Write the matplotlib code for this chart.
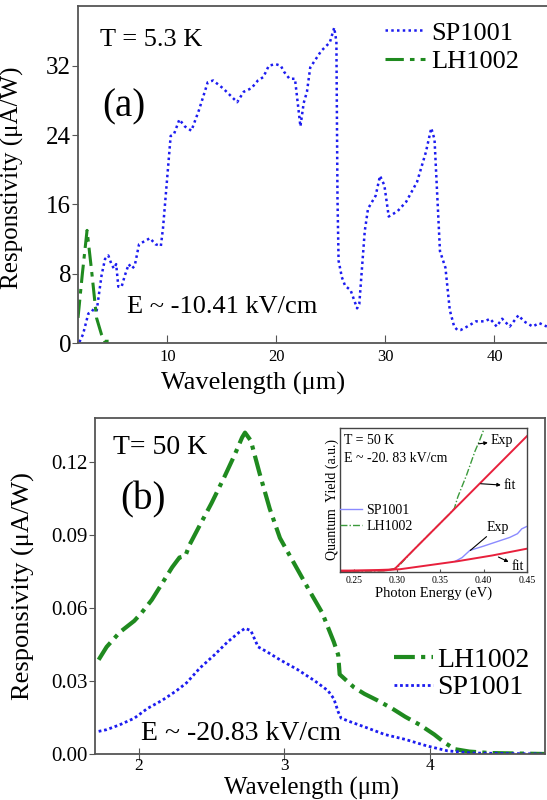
import matplotlib
matplotlib.use("Agg")
import matplotlib.pyplot as plt

# ---- panel (a) data, T = 5.3 K ----
wl_a_sp = [1.93, 2.26, 2.75, 3.06, 3.36, 3.5, 3.96, 4.28, 4.58, 4.9, 5.1, 5.3, 5.5, 5.8,
           6.1, 6.45, 6.75, 7.0, 7.4, 8.4, 8.9, 9.4, 9.6, 10.3, 10.6, 11.1, 11.6, 12.2,
           12.9, 13.7, 14.2, 15.1, 16.4, 17.0, 17.7, 18.3, 18.8, 19.3, 19.9, 20.4, 20.7,
           21.2, 21.7, 22.2, 22.5, 22.8, 23.1, 24.1, 24.9, 25.3, 25.5, 25.6, 25.7, 26.0,
           26.3, 26.8, 27.4, 27.6, 28.1, 28.4, 29.1, 29.5, 29.9, 30.3, 31.1, 31.9, 32.9,
           33.7, 34.2, 34.5, 35.0, 35.5, 35.9, 36.3, 36.6, 36.9, 37.5, 38.3, 39.1, 39.6,
           40.2, 40.7, 41.4, 42.2, 42.7, 43.5, 44.1, 44.8]
resp_a_sp = [0.1, 1.0, 3.4, 3.6, 4.2, 3.6, 7.8, 9.7, 10.1, 9.0, 8.6, 9.1, 6.5, 6.5,
             7.8, 9.1, 8.6, 8.9, 11.4, 12.1, 11.4, 11.2, 13.3, 23.9, 24.1, 25.8, 25.0, 24.5,
             26.9, 30.1, 30.3, 29.4, 27.8, 29.0, 29.4, 30.3, 30.7, 32.0, 32.2, 32.0, 31.3,
             30.5, 30.5, 25.0, 27.7, 29.0, 31.8, 33.7, 34.7, 36.4, 34.8, 16.7, 9.5, 7.6,
             6.6, 6.1, 4.0, 4.5, 12.9, 15.5, 17.0, 19.3, 18.2, 14.6, 15.2, 16.3, 18.6,
             22.0, 24.8, 23.5, 10.6, 8.7, 3.8, 1.9, 1.5, 1.5, 1.9, 2.5, 2.5, 2.8,
             1.9, 2.8, 1.9, 3.2, 2.5, 1.9, 2.3, 1.9]
wl_a_lh = [1.8, 2.2, 2.63, 3.06, 3.5, 3.95, 4.25, 4.7]
resp_a_lh = [2.9, 8.0, 13.0, 8.2, 2.9, 1.0, 0.2, 0.2]

# ---- panel (b) data, T = 50 K ----
wl_b_lh = [1.725, 1.78, 1.87, 1.97, 2.02, 2.09, 2.16, 2.23, 2.28, 2.32, 2.35, 2.42, 2.50,
           2.59, 2.66, 2.71, 2.73, 2.77, 2.83, 2.90, 2.97, 3.07, 3.17, 3.26, 3.34, 3.37,
           3.38, 3.43, 3.48, 3.55, 3.64, 3.74, 3.83, 3.93, 4.03, 4.10, 4.17, 4.27, 4.41, 4.79]
resp_b_lh = [0.0387, 0.044, 0.050, 0.0547, 0.058, 0.0633, 0.070, 0.0767, 0.0807, 0.0813,
             0.086, 0.094, 0.103, 0.114, 0.123, 0.130, 0.132, 0.1287, 0.1153, 0.1007,
             0.0887, 0.078, 0.0673, 0.058, 0.046, 0.0407, 0.0327, 0.030, 0.0273, 0.0247,
             0.022, 0.0187, 0.0153, 0.012, 0.008, 0.0047, 0.002, 0.001, 0.0004, 0.0]
wl_b_sp = [1.725, 1.78, 1.87, 1.97, 2.06, 2.16, 2.26, 2.33, 2.42, 2.52, 2.61, 2.69, 2.73,
           2.77, 2.82, 2.88, 2.97, 3.09, 3.21, 3.30, 3.34, 3.37, 3.39, 3.45, 3.57, 3.69,
           3.83, 3.98, 4.12, 4.29, 4.79]
resp_b_sp = [0.0093, 0.010, 0.012, 0.0147, 0.0187, 0.022, 0.026, 0.0293, 0.0353, 0.0407,
             0.046, 0.050, 0.0516, 0.0507, 0.044, 0.042, 0.0387, 0.0347, 0.030, 0.026,
             0.0227, 0.0173, 0.0147, 0.0133, 0.0107, 0.008, 0.006, 0.0033, 0.0013,
             0.0004, 0.0]

# ---- inset data (quantum yield, a.u.) ----
e_lh_exp = [0.234, 0.28, 0.29, 0.30, 0.32, 0.34, 0.36, 0.366, 0.37, 0.38, 0.39, 0.395, 0.402]
qy_lh_exp = [0.005, 0.008, 0.012, 0.03, 0.16, 0.28, 0.40, 0.44, 0.52, 0.67, 0.84, 0.91, 1.02]
e_lh_fit = [0.234, 0.285, 0.297, 0.45]
qy_lh_fit = [0.01, 0.01, 0.02, 0.944]
e_sp_exp = [0.367, 0.375, 0.384, 0.40, 0.415, 0.43, 0.439, 0.444, 0.45]
qy_sp_exp = [0.074, 0.10, 0.15, 0.18, 0.21, 0.24, 0.266, 0.30, 0.317]
e_sp_fit = [0.234, 0.303, 0.369, 0.41, 0.45]
qy_sp_fit = [0.005, 0.019, 0.074, 0.115, 0.162]

plt.rcParams['font.family'] = ['Liberation Serif', 'DejaVu Serif']

blue = '#1c1cf0'
green = '#1f8a1f'
spine_c = '#555555'

fig = plt.figure(figsize=(5.47, 8.0), dpi=100)

# ---------- panel (a) ----------
ax1 = fig.add_axes([78/547, 1-343/800, 471/547, 337/800])
ax1.plot(wl_a_sp, resp_a_sp, color=blue, lw=1.8, linestyle=(0, (1, 1.3)), label='SP1001')
ax1.plot(wl_a_lh, resp_a_lh, color=green, lw=2.2, linestyle=(0, (6, 2, 1.5, 2)), label='LH1002')
ax1.set_xlim(1.8, 45)
ax1.set_ylim(0, 38.9)
ax1.set_xticks([10, 20, 30, 40])
ax1.set_yticks([0, 8, 16, 24, 32])
ax1.tick_params(axis='x', direction='in', labelsize=12, length=6, color=spine_c, pad=4)
ax1.tick_params(axis='y', direction='out', labelsize=18, length=4, color=spine_c, pad=1)
ax1.set_xlabel('Wavelength (μm)', fontsize=19)
ax1.xaxis.set_label_coords(0.372, -0.085)
ax1.set_ylabel('Responstivity (μA/W)', fontsize=18)
ax1.yaxis.set_label_coords(-0.115, 0.49)
ax1.text(0.047, 0.899, 'T = 5.3 K', transform=ax1.transAxes, fontsize=19, va='center')
ax1.text(0.051, 0.70, '(a)', transform=ax1.transAxes, fontsize=28, va='center')
ax1.text(0.104, 0.107, 'E ~ -10.41 kV/cm', transform=ax1.transAxes, fontsize=19, va='center')
ax1.legend(loc='upper left', bbox_to_anchor=(0.652, 0.955), frameon=False, fontsize=19,
           handlelength=1.5, handletextpad=0.25, labelspacing=0.2, borderpad=0, borderaxespad=0)

# ---------- panel (b) ----------
ax2 = fig.add_axes([95/547, 1-754/800, 450/547, 336/800])
ax2.plot(wl_b_lh, resp_b_lh, color=green, lw=3, linestyle=(0, (5, 1.5, 1, 1.5)), label='LH1002')
ax2.plot(wl_b_sp, resp_b_sp, color=blue, lw=2, linestyle=(0, (1, 1)), label='SP1001')
ax2.set_xlim(1.7, 4.79)
ax2.set_ylim(0, 0.138)
ax2.set_xticks([2, 3, 4])
ax2.set_yticks([0, 0.03, 0.06, 0.09, 0.12])
ax2.set_yticklabels(['0.00', '0.03', '0.06', '0.09', '0.12'])
ax2.tick_params(axis='x', direction='inout', labelsize=12.5, length=8, color=spine_c, pad=-1)
ax2.tick_params(axis='y', direction='out', labelsize=15, length=4, color=spine_c, pad=1)
ax2.set_xlabel('Wavelength (μm)', fontsize=18)
ax2.xaxis.set_label_coords(0.482, -0.068)
ax2.set_ylabel('Responsivity (μA/W)', fontsize=19)
ax2.yaxis.set_label_coords(-0.133, 0.5)
ax2.text(0.04, 0.911, 'T= 50 K', transform=ax2.transAxes, fontsize=20, va='center')
ax2.text(0.056, 0.756, '(b)', transform=ax2.transAxes, fontsize=28, va='center')
ax2.text(0.102, 0.0625, 'E ~ -20.83 kV/cm', transform=ax2.transAxes, fontsize=20, va='center')
ax2.legend(loc='upper left', bbox_to_anchor=(0.664, 0.318), frameon=False, fontsize=20,
           handlelength=1.4, handletextpad=0.15, labelspacing=0.08, borderpad=0, borderaxespad=0)

for ax in (ax1, ax2):
    for s in ax.spines.values():
        s.set_color(spine_c)
        s.set_linewidth(1.3)

# ---------- inset ----------
ax3 = fig.add_axes([340/547, 1-572/800, 187/547, 144/800])
ax3.plot(e_sp_exp, qy_sp_exp, color='#8a8aff', lw=1.0, label='SP1001')
ax3.plot(e_lh_exp, qy_lh_exp, color='#3c9a3c', lw=1.0, linestyle=(0, (5, 1.5, 1, 1.5)), label='LH1002')
ax3.plot(e_lh_fit, qy_lh_fit, color='#e8203c', lw=1.4)
ax3.plot(e_sp_fit, qy_sp_fit, color='#e8203c', lw=1.4)
ax3.set_xlim(0.234, 0.45)
ax3.set_ylim(0, 1)
ax3.set_xticks([0.25, 0.30, 0.35, 0.40, 0.45])
ax3.set_xticklabels(['0.25', '0.30', '0.35', '0.40', '0.45'])
ax3.set_yticks([])
ax3.tick_params(axis='x', direction='in', labelsize=7, length=2.5, color=spine_c, pad=3)
ax3.set_xlabel('Photon Energy (eV)', fontsize=10.5, labelpad=1)
ax3.set_ylabel('Quantum  Yield (a.u.)', fontsize=10, labelpad=1)
for s in ax3.spines.values():
    s.set_color('#444444')
    s.set_linewidth(1.0)
ax3.text(0.2391, 0.914, 'T = 50 K', fontsize=10, va='center')
ax3.text(0.2391, 0.787, 'E ~ -20. 83 kV/cm', fontsize=10, va='center')
ax3.legend(loc='upper left', bbox_to_anchor=(0.0, 0.47), frameon=False, fontsize=10,
           handlelength=1.6, handletextpad=0.3, labelspacing=0.2, borderpad=0, borderaxespad=0)
ax3.annotate('Exp', xy=(0.394, 0.89), xytext=(0.408, 0.91), fontsize=10, va='center',
             arrowprops=dict(arrowstyle='<|-', color='k', lw=0.8, shrinkA=0, shrinkB=0,
                             mutation_scale=5))
ax3.annotate('fit', xy=(0.3965, 0.613), xytext=(0.423, 0.60), fontsize=10, va='center',
             arrowprops=dict(arrowstyle='<|-', color='k', lw=0.8, shrinkA=0, shrinkB=0,
                             mutation_scale=5))
ax3.annotate('Exp', xy=(0.3845, 0.15), xytext=(0.403, 0.31), fontsize=10, va='center',
             arrowprops=dict(arrowstyle='-', color='k', lw=0.8, shrinkA=0, shrinkB=0))
ax3.annotate('fit', xy=(0.417, 0.104), xytext=(0.432, 0.04), fontsize=10, va='center',
             arrowprops=dict(arrowstyle='<|-', color='k', lw=0.8, shrinkA=0, shrinkB=0,
                             mutation_scale=5))

fig.savefig('out.png', dpi=100)
